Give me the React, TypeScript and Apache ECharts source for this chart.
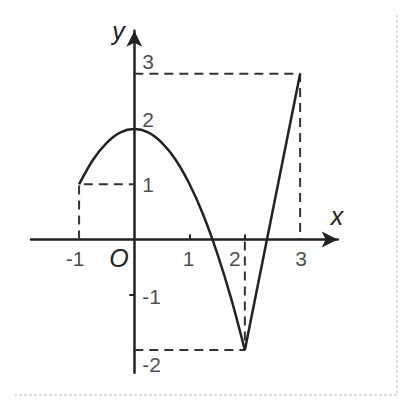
import React, { useEffect, useRef } from "react";
import * as echarts from "echarts";

// parabola part
const curveX = [-1, -0.75, -0.5, -0.25, 0, 0.25, 0.5, 0.75, 1, 1.25, 1.5, 1.75, 2];
const curveY = [1, 1.44, 1.75, 1.94, 2, 1.94, 1.75, 1.44, 1, 0.44, -0.25, -1.06, -2];

// straight part
const lineX = [2, 3];
const lineY = [-2, 3];

// dashed guides
const guideA = [[-1, 0], [-1, 1], [0, 1]];
const guideB = [[0, 3], [3, 3], [3, 0]];
const guideC = [[0, -2], [2, -2], [2, 0]];

const xTicks = [-1, 1, 2, 3];
const yTicks = [3, 2, 1, -1, -2];
const xTickMarks = [1, 2];
const yTickMarks = [-1];

const X_MIN = -1.87;
const X_MAX = 3.68;
const Y_MIN = -2.41;
const Y_MAX = 3.78;

// label nudges (px)
const X_LABEL_DX: Record<number, number> = { [-1]: -4, 1: -1, 2: -10, 3: 1 };
const Y_LABEL_DY: Record<number, number> = { 3: -12, 2: -10, 1: 0, [-1]: 2, [-2]: 14 };

const INK = "#222";
const FONT = "Liberation Sans, Arial, sans-serif";

const App: React.FC = () => {
    const ref = useRef<HTMLDivElement | null>(null);

    useEffect(() => {
        if (!ref.current) return;
        const chart = echarts.init(ref.current, undefined, { renderer: "svg" });

        const dashed = (data: number[][]) => ({
            type: "line",
            data,
            symbol: "none",
            silent: true,
            lineStyle: { color: "#333", width: 2, type: [9, 6] },
        });

        const axisLine = {
            show: true,
            onZero: true,
            symbol: ["none", "arrow"],
            symbolSize: [12, 16],
            lineStyle: { color: INK, width: 2.5 },
        };

        const tickText = {
            show: true,
            color: "#1a1a1a",
            fontSize: 21,
            fontFamily: FONT,
        };

        chart.setOption({
            animation: false,
            grid: { left: 31, right: 68.3, top: 30.7, bottom: 31.3 },
            xAxis: {
                type: "value",
                min: X_MIN,
                max: X_MAX,
                axisLine,
                splitLine: { show: false },
                axisLabel: { show: false },
                axisTick: {
                    show: true,
                    customValues: xTickMarks,
                    inside: true,
                    length: 5,
                    lineStyle: { color: INK, width: 2 },
                },
            },
            yAxis: {
                type: "value",
                min: Y_MIN,
                max: Y_MAX,
                axisLine,
                splitLine: { show: false },
                axisLabel: { show: false },
                axisTick: {
                    show: true,
                    customValues: yTickMarks,
                    length: 5,
                    lineStyle: { color: INK, width: 2 },
                },
            },
            series: [
                dashed(guideA),
                dashed(guideB),
                dashed(guideC),
                {
                    type: "line",
                    data: curveX.map((x, i) => [x, curveY[i]]),
                    symbol: "none",
                    smooth: 0.3,
                    lineStyle: { color: INK, width: 2.5 },
                },
                {
                    type: "line",
                    data: lineX.map((x, i) => [x, lineY[i]]),
                    symbol: "none",
                    lineStyle: { color: INK, width: 2.5 },
                },
                {
                    type: "scatter",
                    symbolSize: 0,
                    silent: true,
                    label: {
                        ...tickText,
                        position: "inside",
                        formatter: (p: any) => String(p.value[0]),
                    },
                    data: xTicks.map((v) => ({
                        value: [v, 0],
                        label: { offset: [X_LABEL_DX[v] ?? 0, 19] },
                    })),
                },
                {
                    type: "scatter",
                    symbolSize: 0,
                    silent: true,
                    label: {
                        ...tickText,
                        position: "right",
                        distance: 8,
                        formatter: (p: any) => String(p.value[1]),
                    },
                    data: yTicks.map((v) => ({
                        value: [0, v],
                        label: { offset: [0, Y_LABEL_DY[v] ?? 0] },
                    })),
                },
            ],
            graphic: [
                {
                    type: "text",
                    x: 118.5,
                    y: 31,
                    style: {
                        text: "y",
                        fill: INK,
                        font: `italic 25px ${FONT}`,
                        align: "center",
                        verticalAlign: "middle",
                    },
                },
                {
                    type: "text",
                    x: 337,
                    y: 216,
                    style: {
                        text: "x",
                        fill: INK,
                        font: `italic 25px ${FONT}`,
                        align: "center",
                        verticalAlign: "middle",
                    },
                },
                {
                    type: "text",
                    x: 119,
                    y: 258,
                    style: {
                        text: "O",
                        fill: INK,
                        font: `italic 25px ${FONT}`,
                        align: "center",
                        verticalAlign: "middle",
                    },
                },
                {
                    type: "polyline",
                    silent: true,
                    shape: { points: [[397, 15], [397, 395], [15, 395]] },
                    style: { stroke: "#bbb", lineWidth: 1, lineDash: [3, 2], fill: "none" },
                },
            ],
        });

        return () => chart.dispose();
    }, []);

    return (
        <div
            ref={ref}
            style={{ position: "absolute", left: 0, top: 0, width: 406, height: 404, background: "#fff" }}
        />
    );
};

export default App;
